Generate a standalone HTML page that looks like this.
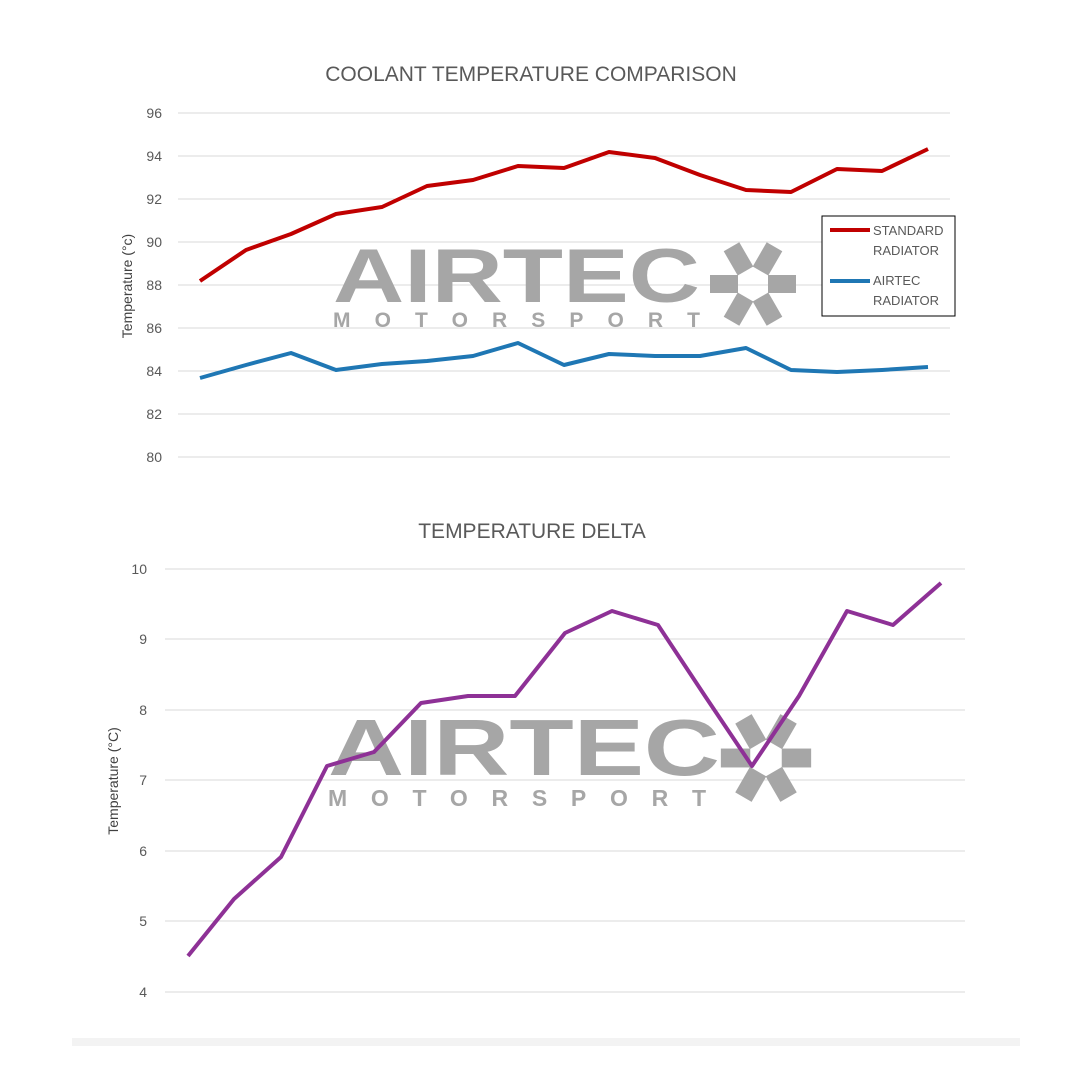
<!DOCTYPE html>
<html><head><style>body{margin:0;background:#fff}svg{display:block}</style></head><body>
<svg width="1080" height="1080" xmlns="http://www.w3.org/2000/svg" font-family="Liberation Sans, sans-serif">
<defs>
<g id="fan" fill="#a6a6a6">
<rect x="-43" y="-9" width="28" height="18"/><rect x="15" y="-9" width="28" height="18"/>
<rect x="-43" y="-9" width="28" height="18" transform="rotate(60)"/><rect x="15" y="-9" width="28" height="18" transform="rotate(60)"/>
<rect x="-43" y="-9" width="28" height="18" transform="rotate(120)"/><rect x="15" y="-9" width="28" height="18" transform="rotate(120)"/>
</g>
</defs>
<rect width="1080" height="1080" fill="#fff"/>
<text x="531" y="81" font-size="21" fill="#595959" text-anchor="middle">COOLANT TEMPERATURE COMPARISON</text>
<g stroke="#d9d9d9" stroke-width="1">
<line x1="178" x2="950" y1="113" y2="113"/><line x1="178" x2="950" y1="156" y2="156"/><line x1="178" x2="950" y1="199" y2="199"/><line x1="178" x2="950" y1="242" y2="242"/><line x1="178" x2="950" y1="285" y2="285"/><line x1="178" x2="950" y1="328" y2="328"/><line x1="178" x2="950" y1="371" y2="371"/><line x1="178" x2="950" y1="414" y2="414"/><line x1="178" x2="950" y1="457" y2="457"/>
</g>
<g font-size="14" fill="#595959" text-anchor="end">
<text x="162" y="118">96</text><text x="162" y="161">94</text><text x="162" y="204">92</text><text x="162" y="247">90</text><text x="162" y="290">88</text><text x="162" y="333">86</text><text x="162" y="376">84</text><text x="162" y="419">82</text><text x="162" y="462">80</text>
</g>
<text transform="translate(132,286) rotate(-90)" font-size="14" fill="#404040" text-anchor="middle">Temperature (°c)</text>
<g fill="#a6a6a6">
<text x="333" y="302" font-size="76" font-weight="bold" textLength="367" lengthAdjust="spacingAndGlyphs">AIRTEC</text>
<text x="333" y="327" font-size="21" font-weight="bold" textLength="367" lengthAdjust="spacing">MOTORSPORT</text>
</g>
<use href="#fan" transform="translate(753,284)"/>
<polyline fill="none" stroke="#c00000" stroke-width="4" stroke-linejoin="round" points="200,281 246,250 291,234 336,214 382,207 427,186 473,180 518,166 564,168 609,152 655,158 700,175 746,190 791,192 837,169 882,171 928,149"/>
<polyline fill="none" stroke="#1f77b4" stroke-width="4" stroke-linejoin="round" points="200,378 246,365 291,353 336,370 382,364 427,361 473,356 518,343 564,365 609,354 655,356 700,356 746,348 791,370 837,372 882,370 928,367"/>
<rect x="822" y="216" width="133" height="100" fill="#fff" stroke="#000" stroke-width="1"/>
<line x1="830" x2="870" y1="230" y2="230" stroke="#c00000" stroke-width="4"/>
<line x1="830" x2="870" y1="281" y2="281" stroke="#1f77b4" stroke-width="4"/>
<g font-size="13" fill="#595959"><text x="873" y="235">STANDARD</text><text x="873" y="255">RADIATOR</text><text x="873" y="285">AIRTEC</text><text x="873" y="305">RADIATOR</text></g>

<text x="532" y="538" font-size="21" fill="#595959" text-anchor="middle">TEMPERATURE DELTA</text>
<g stroke="#d9d9d9" stroke-width="1">
<line x1="165" x2="965" y1="569" y2="569"/><line x1="165" x2="965" y1="639" y2="639"/><line x1="165" x2="965" y1="710" y2="710"/><line x1="165" x2="965" y1="780" y2="780"/><line x1="165" x2="965" y1="851" y2="851"/><line x1="165" x2="965" y1="921" y2="921"/><line x1="165" x2="965" y1="992" y2="992"/>
</g>
<g font-size="14" fill="#595959" text-anchor="end">
<text x="147" y="574">10</text><text x="147" y="644">9</text><text x="147" y="715">8</text><text x="147" y="785">7</text><text x="147" y="856">6</text><text x="147" y="926">5</text><text x="147" y="997">4</text>
</g>
<text transform="translate(118,781) rotate(-90)" font-size="14" fill="#404040" text-anchor="middle">Temperature (°C)</text>
<g fill="#a6a6a6">
<text x="328" y="775" font-size="80" font-weight="bold" textLength="392" lengthAdjust="spacingAndGlyphs">AIRTEC</text>
<text x="328" y="806" font-size="23" font-weight="bold" textLength="378" lengthAdjust="spacing">MOTORSPORT</text>
</g>
<use href="#fan" transform="translate(766,758) scale(1.05)"/>
<polyline fill="none" stroke="#8e3196" stroke-width="4" stroke-linejoin="round" points="188,956 234,899 281,857 327,766 374,752 421,703 468,696 515,696 565,633 612,611 658,625 705,696 752,766 799,696 847,611 893,625 941,583"/>
<rect x="72" y="1038" width="948" height="8" fill="#f3f3f3"/>
</svg>
</body></html>
